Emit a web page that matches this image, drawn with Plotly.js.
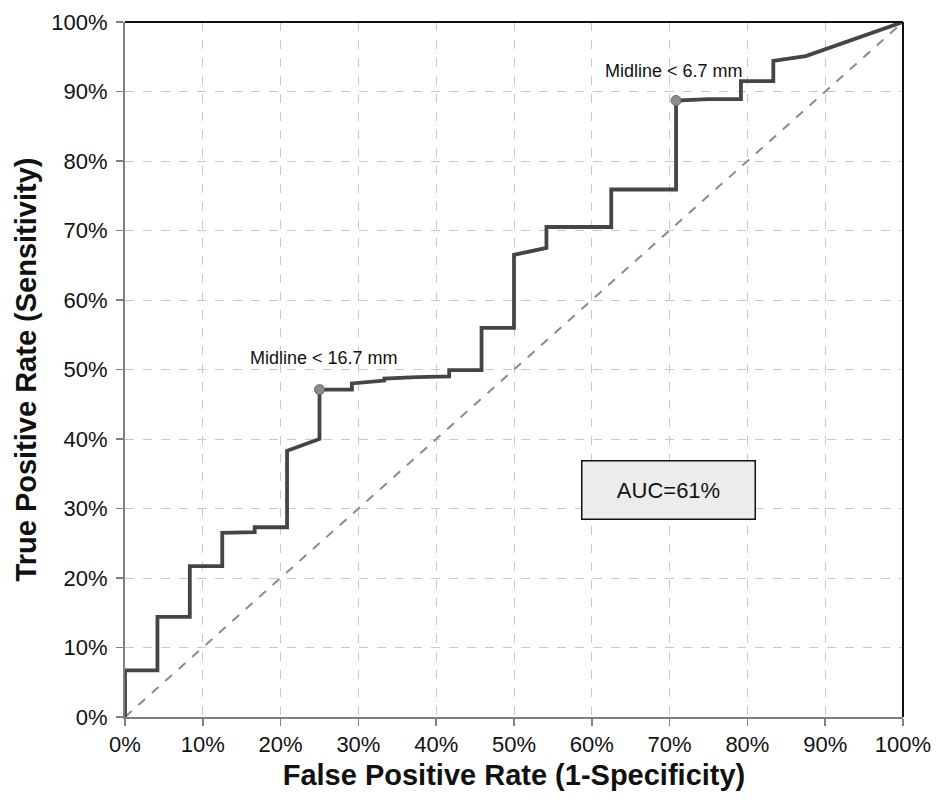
<!DOCTYPE html>
<html>
<head>
<meta charset="utf-8">
<script src="https://cdn.plot.ly/plotly-3.0.1.min.js"></script>
<style>html,body{margin:0;padding:0;background:#fff;}#chart{width:936px;height:802px;}</style>
</head>
<body>
<div id="chart"></div>
<script>
// ROC curve points (False Positive Rate %, True Positive Rate %)
const fpr = [0, 0, 4.17, 4.17, 8.33, 8.33, 12.5, 12.5, 16.67, 16.67, 20.83, 20.83, 25, 25, 29.17, 29.17, 33.33, 33.33, 37.5, 41.67, 41.67, 45.83, 45.83, 50, 50, 54.17, 54.17, 62.5, 62.5, 70.83, 70.83, 75, 79.17, 79.17, 83.33, 83.33, 87.5, 100];
const tpr = [0, 6.7, 6.7, 14.4, 14.4, 21.7, 21.7, 26.5, 26.6, 27.3, 27.3, 38.3, 40.0, 47.1, 47.1, 48.0, 48.4, 48.7, 48.9, 49.0, 49.9, 49.9, 56.0, 56.0, 66.5, 67.5, 70.5, 70.5, 75.9, 75.9, 88.7, 88.9, 88.9, 91.5, 91.5, 94.4, 95.1, 100];
// Reference diagonal
const diagX = [0, 100];
const diagY = [0, 100];
// Highlighted cut-off points
const cutX = [25, 70.83];
const cutY = [47.1, 88.7];
const cutLabels = ["Midline < 16.7 mm", "Midline < 6.7 mm"];
const aucText = "AUC=61%";
const tickVals = [0,10,20,30,40,50,60,70,80,90,100];
const tickText = tickVals.map(v => v + "%");

const traces = [
  {x: diagX, y: diagY, mode: 'lines', line: {color: '#8a8a8a', width: 2, dash: 'dash'}, hoverinfo: 'skip'},
  {x: fpr, y: tpr, mode: 'lines', line: {color: '#454545', width: 3.8}},
  {x: cutX, y: cutY, mode: 'markers', marker: {color: '#8c8c8c', size: 10, line: {color: '#666', width: 1}}}
];

const font = "Arial, 'Liberation Sans', sans-serif";
const layout = {
  width: 936, height: 802,
  margin: {l: 125, r: 33, t: 22, b: 85},
  paper_bgcolor: '#fff', plot_bgcolor: '#fff',
  showlegend: false,
  font: {family: font, color: '#111'},
  xaxis: {
    range: [0, 100], tickvals: tickVals, ticktext: tickText,
    showgrid: true, gridcolor: '#c9c9c9', griddash: 'dash', gridwidth: 1,
    zeroline: false, showline: true, linecolor: '#808080', linewidth: 2,
    ticks: 'outside', ticklen: 7, tickcolor: '#808080', tickwidth: 1.5,
    tickfont: {size: 22, color: '#111', family: font},
    title: {text: '<b>False Positive Rate (1-Specificity)</b>', font: {size: 29, color: '#111', family: font}, standoff: 8}
  },
  yaxis: {
    range: [0, 100], tickvals: tickVals, ticktext: tickText,
    showgrid: true, gridcolor: '#c9c9c9', griddash: 'dash', gridwidth: 1,
    zeroline: false, showline: true, linecolor: '#808080', linewidth: 2,
    ticks: 'outside', ticklen: 7, tickcolor: '#808080', tickwidth: 1.5,
    ticklabelstandoff: 4,
    tickfont: {size: 22, color: '#111', family: font},
    title: {text: '<b>True Positive Rate (Sensitivity)</b>', font: {size: 29, color: '#111', family: font}, standoff: 6}
  },
  shapes: [
    {type: 'line', xref: 'paper', yref: 'paper', x0: 0, x1: 1, y0: 1, y1: 1, line: {color: '#111', width: 2}},
    {type: 'line', xref: 'paper', yref: 'paper', x0: 1, x1: 1, y0: 0, y1: 1, line: {color: '#111', width: 2}}
  ],
  annotations: [
    {x: cutX[0], y: cutY[0], xref: 'x', yref: 'y', text: cutLabels[0], showarrow: false, yshift: 32, xshift: 4, font: {size: 18, color: '#111', family: font}},
    {x: cutX[1], y: cutY[1], xref: 'x', yref: 'y', text: cutLabels[1], showarrow: false, yshift: 30, xshift: -2, font: {size: 18, color: '#111', family: font}},
    {x: 69.8, y: 32.7, xref: 'x', yref: 'y', text: aucText, showarrow: false, font: {size: 22, color: '#111', family: font},
     bgcolor: '#ececec', bordercolor: '#111', borderwidth: 1.5, width: 170, height: 55}
  ]
};

Plotly.newPlot('chart', traces, layout, {displayModeBar: false, staticPlot: true});
</script>
</body>
</html>
